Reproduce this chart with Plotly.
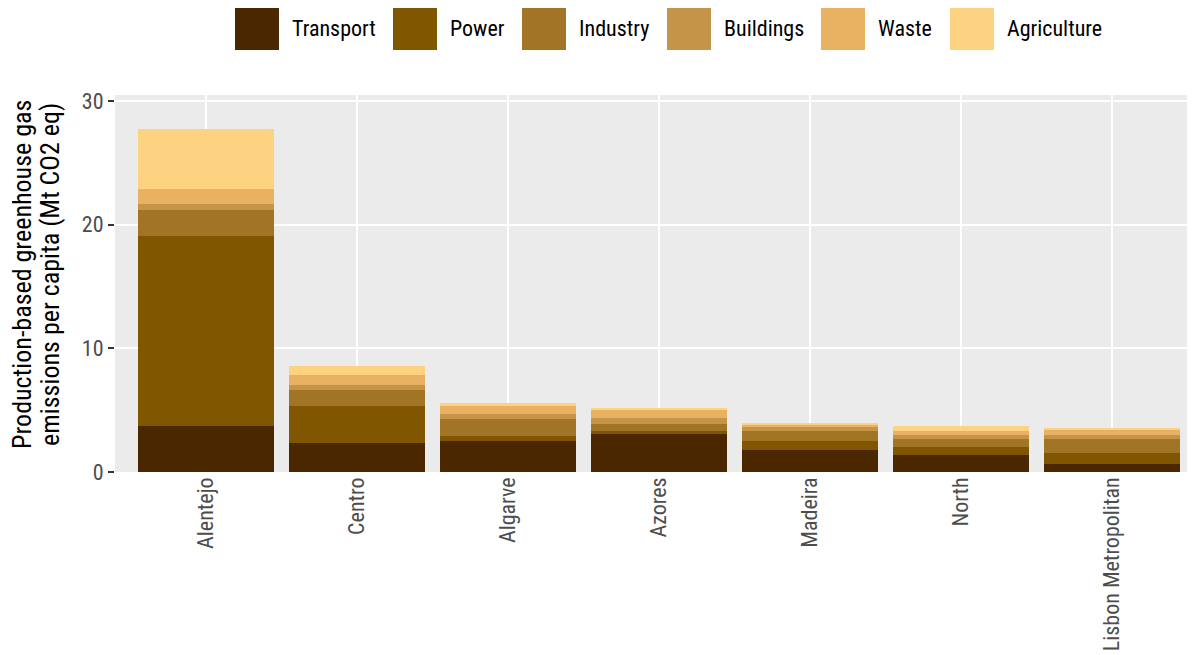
import plotly.graph_objects as go

regions = ["Alentejo", "Centro", "Algarve", "Azores", "Madeira", "North", "Lisbon Metropolitan"]
sectors = ["Transport", "Power", "Industry", "Buildings", "Waste", "Agriculture"]
colors = ["#4B2700", "#805600", "#A27425", "#C59448", "#E8B262", "#FDD382"]

transport = [3.72, 2.35, 2.51, 3.08, 1.78, 1.38, 0.65]
power = [15.38, 3.00, 0.40, 0.24, 0.73, 0.65, 0.89]
industry = [2.10, 1.30, 1.38, 0.57, 0.81, 0.65, 1.13]
buildings = [0.49, 0.40, 0.40, 0.49, 0.35, 0.32, 0.32]
waste = [1.21, 0.81, 0.65, 0.65, 0.14, 0.32, 0.45]
agriculture = [4.86, 0.73, 0.24, 0.08, 0.08, 0.40, 0.05]
series = [transport, power, industry, buildings, waste, agriculture]

y_ticks = [0, 10, 20, 30]
y_title_lines = ["Production-based greenhouse gas", "emissions per capita (Mt CO2 eq)"]

# page is rendered with an 8px body margin
OFF = 8
W, H = 1195 - OFF, 655 - OFF
ML, MR, MT, MB = 115 - OFF, 0, 95 - OFF, 183
FONT = "Roboto Condensed, Liberation Sans Narrow, Arial Narrow, Liberation Sans, Arial, sans-serif"

fig = go.Figure()
for name, vals, col in zip(sectors, series, colors):
    fig.add_trace(go.Bar(x=regions, y=vals, name=name, marker=dict(color=col, line=dict(width=0)),
                         width=0.9, showlegend=False))

# positions in page pixels -> paper coords
pw = W - ML - MR
ph = H - MT - MB
def px_x(p):
    return (p - OFF - ML) / pw
def px_y(p):
    return (H + OFF - MB - p) / ph

# custom ggplot-like legend on top
key_left = [235, 393, 522, 667, 821, 950]
for name, col, kx in zip(sectors, colors, key_left):
    fig.add_shape(type="rect", xref="paper", yref="paper",
                  x0=px_x(kx), x1=px_x(kx + 44), y0=px_y(50), y1=px_y(7),
                  fillcolor=col, line=dict(width=0), layer="above")
    fig.add_annotation(xref="paper", yref="paper", x=px_x(kx + 55), y=px_y(29),
                       text=name, showarrow=False, xanchor="left", yanchor="middle",
                       font=dict(size=22, color="#000000", family=FONT))

# y-axis title (two lines, ggplot-like tight line spacing)
for line, cx in zip(y_title_lines, [22, 50]):
    fig.add_annotation(xref="paper", yref="paper", x=px_x(cx), y=px_y(275),
                       text=line, textangle=-90, showarrow=False,
                       xanchor="center", yanchor="middle",
                       font=dict(size=26, color="#000000", family=FONT))

fig.update_layout(
    width=W, height=H,
    margin=dict(l=ML, r=MR, t=MT, b=MB, autoexpand=False),
    barmode="stack",
    bargap=0.1,
    paper_bgcolor="white",
    plot_bgcolor="#EBEBEB",
    font=dict(family=FONT, color="#4D4D4D"),
    xaxis=dict(
        range=[-0.6, 6.55],
        tickangle=-90,
        tickfont=dict(size=22, color="#4D4D4D", family=FONT),
        showgrid=True, gridcolor="white", gridwidth=2,
        ticks="", zeroline=False, showline=False, automargin=False,
    ),
    yaxis=dict(
        range=[0, 30.48],
        tickvals=y_ticks,
        tickfont=dict(size=22, color="#4D4D4D", family=FONT),
        showgrid=True, gridcolor="white", gridwidth=2,
        ticks="outside", ticklen=6, tickwidth=2, tickcolor="#333333",
        zeroline=False, showline=False, automargin=False,
    ),
)

fig.write_html("out.html")
